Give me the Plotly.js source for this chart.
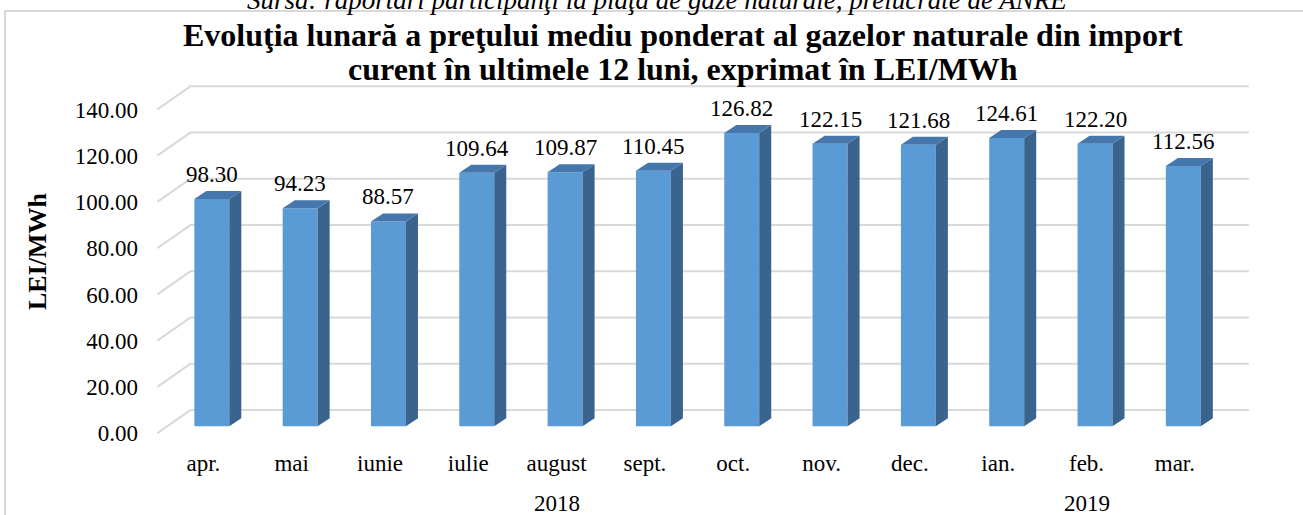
<!DOCTYPE html>
<html>
<head>
<meta charset="utf-8">
<script src="https://cdn.plot.ly/plotly-3.0.1.min.js"></script>
<style>
  html, body { margin: 0; padding: 0; background: #ffffff; }
  #chart { width: 1303px; height: 515px; }
</style>
</head>
<body>
<div id="chart"></div>
<script>
// ---- data ----
const months = ['apr.', 'mai', 'iunie', 'iulie', 'august', 'sept.', 'oct.', 'nov.', 'dec.', 'ian.', 'feb.', 'mar.'];
const prices = [98.30, 94.23, 88.57, 109.64, 109.87, 110.45, 126.82, 122.15, 121.68, 124.61, 122.20, 112.56];
const years = ['2018', '2019'];
const yearFirstMonth = [0, 9];
const yearLastMonth = [8, 11];
const yTicks = [0, 20, 40, 60, 80, 100, 120, 140];
const titleLines = ['Evoluţia lunară a preţului mediu ponderat al gazelor naturale din import',
                    'curent în ultimele 12 luni, exprimat în LEI/MWh'];
const sourceText = 'Sursa: raportări participanţi la piaţa de gaze naturale, prelucrate de ANRE';
const yTitle = 'LEI/MWh';

// ---- layout geometry ----
const W = 1303, H = 515;
const M = { l: 150, r: 49, t: 84, b: 61 };
const plotW = W - M.l - M.r, plotH = H - M.t - M.b;
const xRange = [-0.7, 11.8];
const yRange = [-12, 148];
const px = p => (p - M.l) / plotW;          // pixel -> paper x
const py = p => (H - M.b - p) / plotH;      // pixel -> paper y

const barW = 0.396;      // front face width (category units)
const depthX = 0.136;    // bar depth, horizontal (category units)
const depthY = 3.46;     // bar depth, vertical (value units)
const wallFront = -3;    // floor/wall front edge offset (value units)
const wallBack = 7;      // back wall offset (value units)
const wallLeftFront = -0.617, wallLeftBack = -0.243, wallRight = 11.742;
const labelShift = -0.096;

const serif = '"Liberation Serif", "Times New Roman", serif';
const idx = months.map((_, i) => i);

// side and top faces from the data
const sideX = [], sideY = [], topX = [], topY = [];
idx.forEach(i => {
  const v = prices[i];
  const r = i + barW / 2, l = i - barW / 2;
  sideX.push(r, r + depthX, r + depthX, r, r, null);
  sideY.push(0, depthY, v + depthY, v, 0, null);
  topX.push(l, r, r + depthX, l + depthX, l, null);
  topY.push(v, v, v + depthY, v + depthY, v, null);
});

const traces = [
  { type: 'bar', x: idx, y: prices, width: barW,
    marker: { color: '#5B9BD5', line: { width: 0 } }, hoverinfo: 'skip', showlegend: false },
  { type: 'scatter', mode: 'lines', x: sideX, y: sideY, fill: 'toself', fillcolor: '#3A638D',
    line: { width: 0, color: '#3A638D' }, hoverinfo: 'skip', showlegend: false },
  { type: 'scatter', mode: 'lines', x: topX, y: topY, fill: 'toself', fillcolor: '#4677AC',
    line: { width: 0, color: '#4677AC' }, hoverinfo: 'skip', showlegend: false }
];

// gridlines on left wall + back wall
const shapes = yTicks.map(v => ({
  type: 'path', layer: 'below', xref: 'x', yref: 'y',
  path: `M ${wallLeftFront},${v + wallFront} L ${wallLeftBack},${v + wallBack} L ${wallRight},${v + wallBack}`,
  line: { color: '#D9D9D9', width: 2 }
}));
// chart border
shapes.push({ type: 'rect', xref: 'paper', yref: 'paper',
  x0: px(5), x1: px(1310), y0: py(522), y1: py(11),
  line: { color: '#D9D9D9', width: 2 }, fillcolor: 'rgba(0,0,0,0)', layer: 'below' });

const annotations = [];
// data labels
idx.forEach(i => annotations.push({
  x: i, y: prices[i] + depthY, xref: 'x', yref: 'y', text: prices[i].toFixed(2),
  showarrow: false, yanchor: 'bottom', yshift: 2,
  font: { family: serif, size: 23, color: '#000' }
}));
// years
years.forEach((yr, k) => annotations.push({
  x: (yearFirstMonth[k] + yearLastMonth[k]) / 2 + labelShift, xref: 'x',
  y: py(503), yref: 'paper', text: yr, showarrow: false, yanchor: 'middle',
  font: { family: serif, size: 23, color: '#000' }
}));
// title lines
titleLines.forEach((t, k) => annotations.push({
  x: px(683), y: py([35, 69][k]), xref: 'paper', yref: 'paper', text: '<b>' + t + '</b>',
  showarrow: false, xanchor: 'center', yanchor: 'middle',
  font: { family: serif, size: 32, color: '#000' }
}));
// source line (cut off at top)
annotations.push({
  x: px(657), y: py(0), xref: 'paper', yref: 'paper', text: '<i>' + sourceText + '</i>',
  showarrow: false, xanchor: 'center', yanchor: 'middle',
  font: { family: serif, size: 27, color: '#000' }
});
// y axis title
annotations.push({
  x: px(37), y: py(251), xref: 'paper', yref: 'paper', text: '<b>' + yTitle + '</b>',
  showarrow: false, textangle: -90, xanchor: 'center', yanchor: 'middle',
  font: { family: serif, size: 26, color: '#000' }
});

const layout = {
  width: W, height: H,
  margin: M,
  paper_bgcolor: '#ffffff', plot_bgcolor: 'rgba(0,0,0,0)',
  showlegend: false,
  xaxis: {
    range: xRange, showgrid: false, zeroline: false, showline: false, ticks: '',
    tickmode: 'array', tickvals: idx.map(i => i + labelShift), ticktext: months,
    ticklabelstandoff: -7,
    tickfont: { family: serif, size: 23, color: '#000' }
  },
  yaxis: {
    range: yRange, showgrid: false, zeroline: false, showline: false, ticks: '',
    tickmode: 'array', tickvals: yTicks.map(v => v + wallFront), ticktext: yTicks.map(v => v.toFixed(2)),
    ticklabelstandoff: 11,
    tickfont: { family: serif, size: 23, color: '#000' }
  },
  shapes: shapes,
  annotations: annotations
};

Plotly.newPlot('chart', traces, layout, { displayModeBar: false, staticPlot: true });
</script>
</body>
</html>
